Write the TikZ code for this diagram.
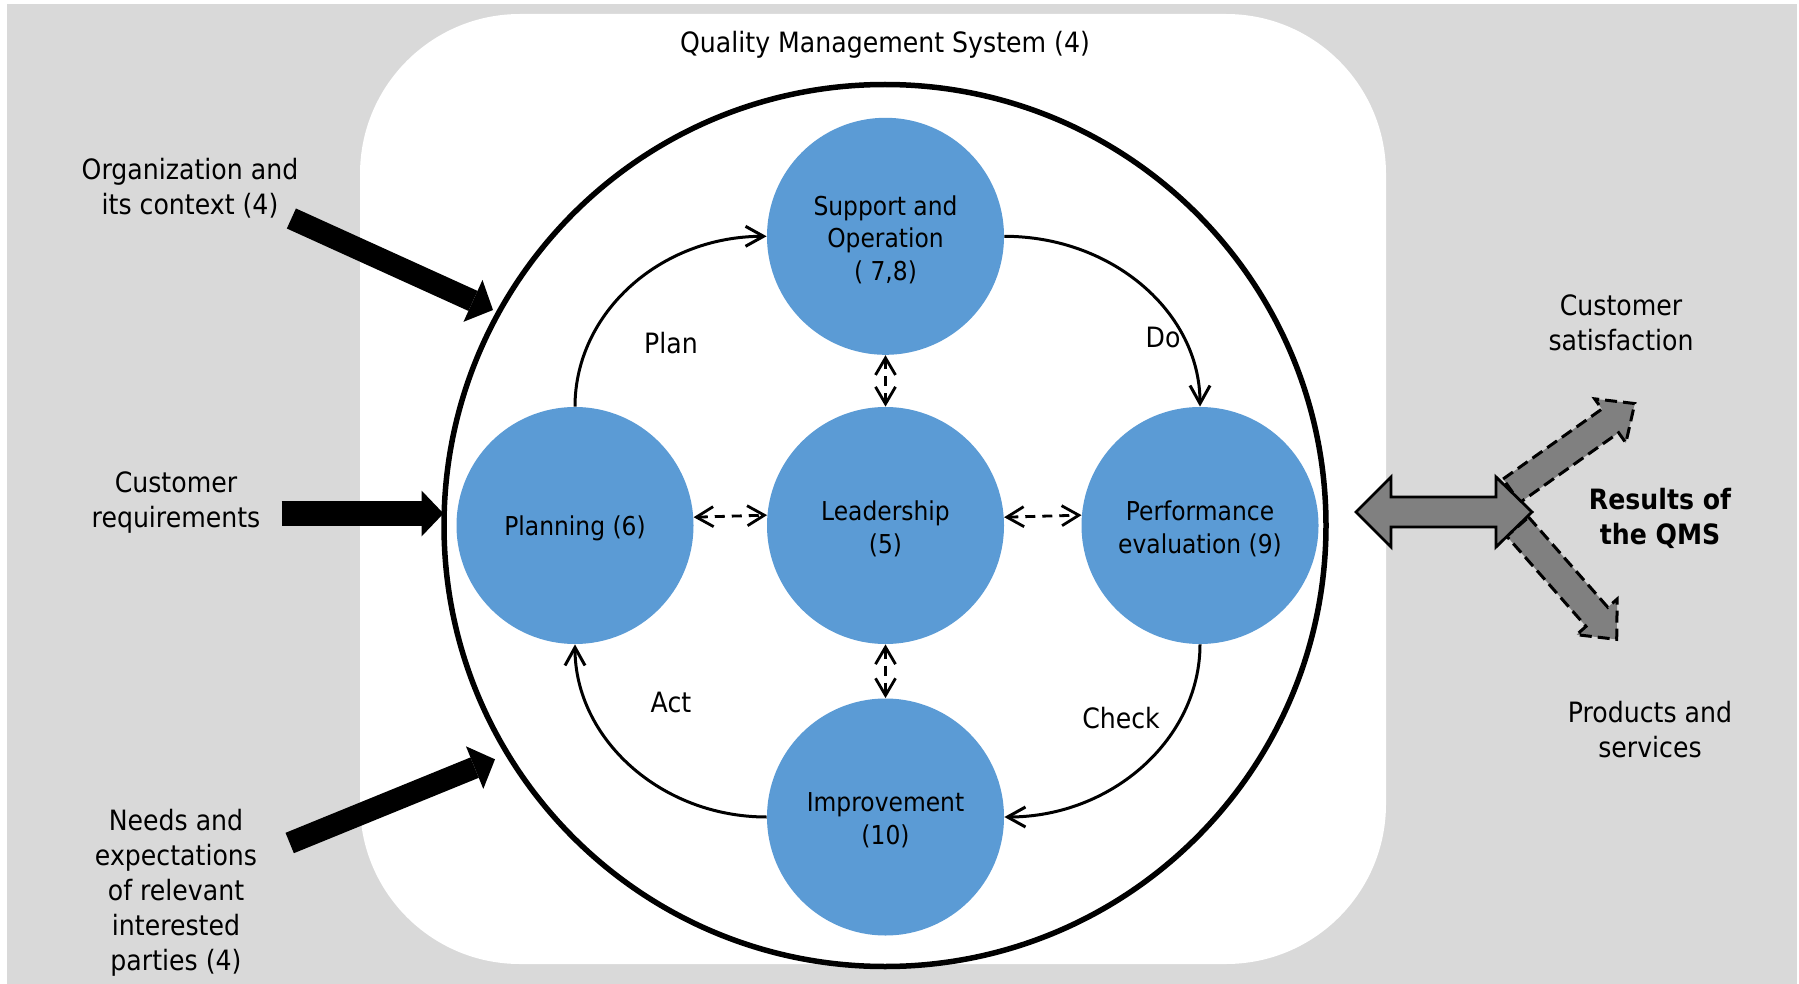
\documentclass[tikz,border=0pt]{standalone}
\usepackage{fontspec}
\setmainfont{DejaVu Sans}[FakeStretch=0.9]
\usetikzlibrary{arrows.meta}
\definecolor{bgGrey}{HTML}{D9D9D9}
\definecolor{procBlue}{HTML}{5B9BD5}
\definecolor{resGrey}{HTML}{808080}
\newcommand{\mlines}[1]{\begin{tabular}[t]{@{}c@{}}#1\end{tabular}}
\begin{document}
\begin{tikzpicture}[x=0.5pt,y=-0.5pt,
  outertext/.style={inner sep=0pt, anchor=base, font=\fontsize{14pt}{17.5pt}\selectfont},
  labeltext/.style={inner sep=0pt, anchor=base, font=\fontsize{14pt}{17.5pt}\selectfont},
  process/.style={circle, fill=procBlue, minimum size=118.5pt, inner sep=0pt},
  proctext/.style={align=center, inner sep=0pt, yshift=-1.6pt, font=\fontsize{13pt}{16.3pt}\selectfont},
  cyclearrow/.style={line width=1.5pt, -{Straight Barb[length=9pt,width=10pt]}},
  linkarrow/.style={line width=1.4pt, dash pattern=on 5pt off 3.5pt, {Straight Barb[length=8.5pt,width=10pt]}-{Straight Barb[length=8.5pt,width=10pt]}},
  inarrow/.style={line width=11pt, -{Triangle[length=11pt,width=23pt,line width=0pt]}},
  resultarrow/.style={fill=resGrey, draw=black, line width=1.5pt, dash pattern=on 6pt off 3pt, line join=miter},
  dblarrow/.style={fill=resGrey, draw=black, line width=1.4pt, line join=miter},
]
\useasboundingbox (0,0) rectangle (1799,984);
\fill[bgGrey] (7,4) rectangle (1797,984);
\fill[white, rounded corners=80pt] (360,14) rectangle (1386,964);

% QMS circle
\node[circle, draw, line width=2.75pt, minimum size=441pt, inner sep=0pt] (qms) at (885,525.5) {};

% process circles
\node[process, label={[proctext]center:{Support and\\Operation\\( 7,8)}}] (sup) at (885.5,236.3) {};
\node[process, label={[proctext]center:{Leadership\\(5)}}] (lead) at (885.5,525.5) {};
\node[process, label={[proctext]center:{Planning (6)}}] (plan) at (575,525.5) {};
\node[process, label={[proctext]center:{Performance\\evaluation (9)}}] (perf) at (1200,525.5) {};
\node[process, label={[proctext]center:{Improvement\\(10)}}] (imp) at (885.5,817) {};

% PDCA cycle
\draw[cyclearrow] (plan.north) .. controls +(0,-94) and +(-106,0) .. (sup.west);
\draw[cyclearrow] (sup.east) .. controls +(108,0) and +(0,-94) .. (perf.north);
\draw[cyclearrow] (perf.south) .. controls +(0,94) and +(108,0) .. (imp.east);
\draw[cyclearrow] (imp.west) .. controls +(-106,0) and +(0,94) .. (plan.south);

% leadership links
\draw[linkarrow] (sup.south) -- (lead.north);
\draw[linkarrow] (lead.south) -- (imp.north);
\draw[linkarrow] (plan.4.6) -- (lead.175.4);
\draw[linkarrow] (lead.4.6) -- (perf.175.4);

% cycle labels
\node[labeltext] (lplan)  at (671,353) {Plan};
\node[labeltext] (ldo)    at (1163,347) {Do};
\node[labeltext] (lcheck) at (1121,728) {Check};
\node[labeltext] (lact)   at (671,712) {Act};

% title
\node[outertext] (title) at (885,53) {Quality Management System (4)};

% inputs
\node[outertext] (org) at (190,180) {\mlines{Organization and\\its context (4)}};
\node[outertext] (custreq) at (176,492) {\mlines{Customer\\requirements}};
\node[outertext] (needs) at (176,830) {\mlines{Needs and\\expectations\\of relevant\\interested\\parties (4)}};

\coordinate (orgtail) at (291.4,218.5);
\coordinate (orgtip) at (493,310);
\coordinate (reqtail) at (281.7,513.5);
\coordinate (reqtip) at (443.5,513.5);
\coordinate (needtail) at (289.7,843);
\coordinate (needtip) at (495,759.3);
\draw[inarrow] (orgtail) -- (orgtip);
\draw[inarrow, line width=12.5pt] (reqtail) -- (reqtip);
\draw[inarrow] (needtail) -- (needtip);

% results
\begin{scope}[shift={(1511.5,490.8)}, rotate=35.3]
  \draw[resultarrow] (0,-14.5) -- (121,-14.5) -- (121,-27) -- (151,0) -- (121,27) -- (121,14.5) -- (0,14.5) -- cycle;
\end{scope}
\begin{scope}[shift={(1517.7,526.7)}, rotate=-48.7]
  \draw[resultarrow] (0,-14.5) -- (120,-14.5) -- (120,-27) -- (150,0) -- (120,27) -- (120,14.5) -- (0,14.5) -- cycle;
\end{scope}
\draw[dblarrow] (1356,512) -- (1391,477) -- (1391,497) -- (1496,497) -- (1496,477) -- (1532,512) -- (1496,547) -- (1496,527) -- (1391,527) -- (1391,547) -- cycle;

\node[outertext] (custsat) at (1621,315) {\mlines{Customer\\satisfaction}};
\node[outertext] (prod) at (1650,722) {\mlines{Products and\\services}};
\node[outertext, font=\fontsize{14pt}{17.5pt}\selectfont\bfseries] (results) at (1660,509) {\mlines{Results of\\the QMS}};
\end{tikzpicture}
\end{document}
